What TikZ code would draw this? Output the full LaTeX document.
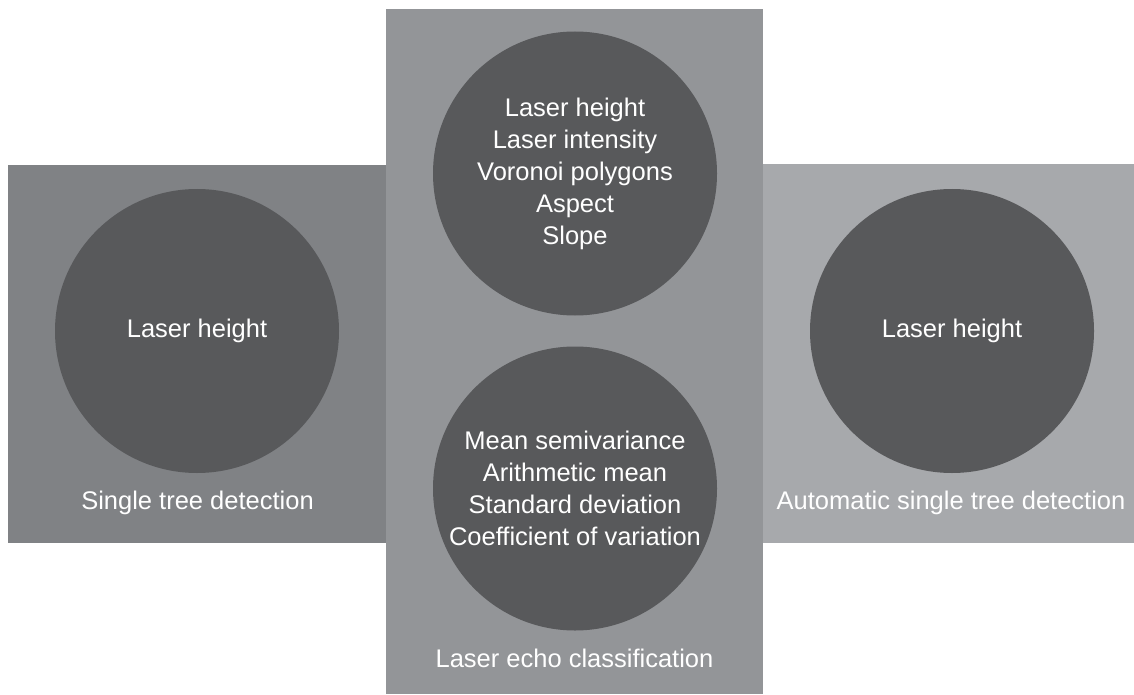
\documentclass[tikz,border=0pt]{standalone}
\usepackage{fontspec}
\setmainfont{Liberation Sans}
\usetikzlibrary{positioning}
\definecolor{PanelDark}{HTML}{808285}
\definecolor{PanelMid}{HTML}{939598}
\definecolor{PanelLight}{HTML}{A7A9AC}
\definecolor{DiscGrey}{HTML}{58595B}

\begin{document}
\begin{tikzpicture}[x=1pt,y=-1pt,
    panel/.style={rectangle,inner sep=0pt,outer sep=0pt},
    disc/.style={circle,fill=DiscGrey,minimum size=284pt,inner sep=0pt,
                 align=center,text=white,font=\fontsize{25.5}{32}\selectfont},
    caption/.style={anchor=base,inner sep=0pt,text=white,
                    font=\fontsize{25.5}{32}\selectfont}]
  \useasboundingbox (0,0) rectangle (1134,695);

  % three panels side by side
  \node[panel,fill=PanelDark,minimum width=378pt,minimum height=378pt] (single) at (197,354) {};
  \node[panel,fill=PanelLight,minimum width=371pt,minimum height=379pt] (automatic) at (948.5,353.5) {};
  \node[panel,fill=PanelMid,minimum width=377pt,minimum height=685pt] (echo) at (574.5,351.5) {};

  % variables used by each method
  \node[disc] (singledisc) at (197,331) {Laser height};
  \node[disc] (echotop) at (575,173.5)
        {Laser height\\Laser intensity\\Voronoi polygons\\Aspect\\Slope};
  \node[disc] (echobottom) at (575,488.5)
        {Mean semivariance\\Arithmetic mean\\Standard deviation\\Coefficient of variation};
  \node[disc] (autodisc) at (952,331) {Laser height};

  % method names
  \node[caption] (singlename) at (197.5,509.5) {Single tree detection};
  \node[caption] (echoname) at (574.5,667) {Laser echo classification};
  \node[caption] (autoname) at (951,509.5) {Automatic single tree detection};
\end{tikzpicture}
\end{document}
